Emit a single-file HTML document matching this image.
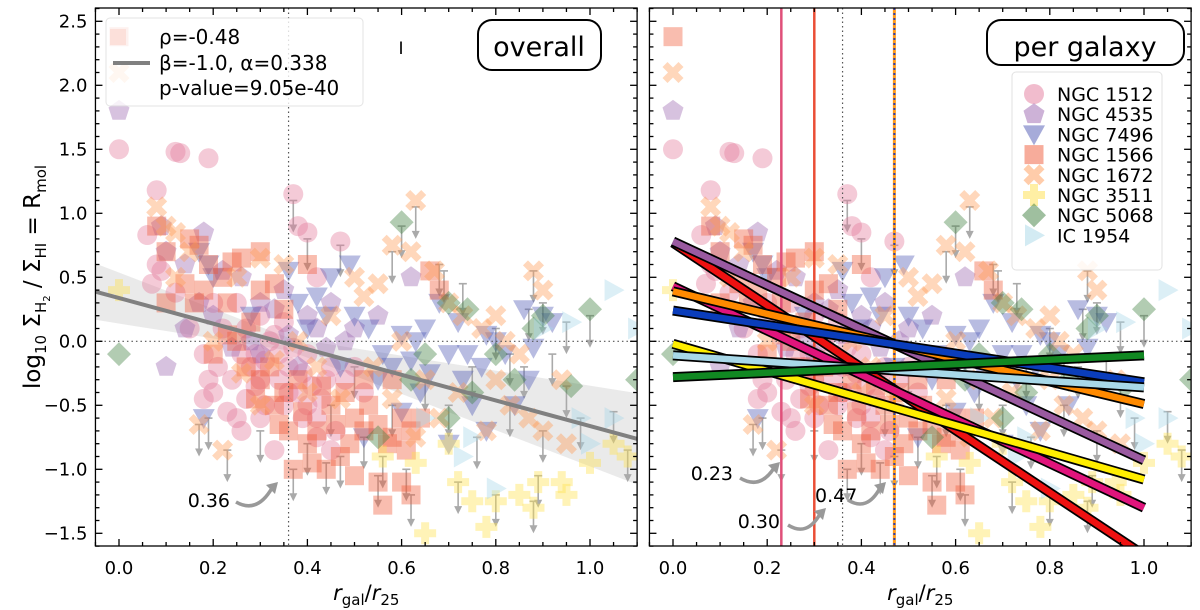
<!DOCTYPE html>
<html><head><meta charset="utf-8"><style>
body{margin:0;background:#fff}
svg{display:block;font-family:"DejaVu Sans","Liberation Sans",sans-serif}
</style></head><body>
<svg id="chart" width="1200" height="610" viewBox="0 0 1200 610" xmlns="http://www.w3.org/2000/svg">
<g id="left"></g>
<g id="right"></g>
<text transform="translate(40,277) rotate(-90)" text-anchor="middle" font-size="23">log<tspan font-size="15" dy="6">10</tspan><tspan dy="-6"> Σ</tspan><tspan font-size="15" dy="6">H</tspan><tspan font-size="10" dy="4">2</tspan><tspan dy="-10"> / Σ</tspan><tspan font-size="15" dy="6">HI</tspan><tspan dy="-6"> = R</tspan><tspan font-size="15" dy="6">mol</tspan></text>
</svg>
<script>
const xTicks=[0,0.2,0.4,0.6,0.8,1.0];
const yTicks=[-1.5,-1.0,-0.5,0,0.5,1.0,1.5,2.0,2.5];
const galaxies=["NGC 1512","NGC 4535","NGC 7496","NGC 1566","NGC 1672","NGC 3511","NGC 5068","IC 1954"];
const g1512=[[0,1.5],[0.12,1.48],[0.13,1.47],[0.19,1.43],[0.08,1.18],[0.06,0.83],[0.08,0.6],[0.07,0.45],[0.09,0.55],[0.12,0.38],[0.2,0.3],[0.15,0.1],[0.18,-0.1],[0.2,-0.4],[0.18,-0.45],[0.23,-0.55],[0.25,-0.6],[0.26,-0.7],[0.28,-0.2],[0.3,-0.3],[0.32,0],[0.34,-0.1],[0.36,-0.2],[0.38,-0.4],[0.4,-0.5],[0.42,-0.6],[0.45,-0.85],[0.46,-0.7],[0.48,-0.3],[0.37,1.15],[0.38,0.9],[0.4,0.85],[0.47,0.78],[0.42,0.5],[0.33,-0.85],[0.35,-0.5],[0.3,0.2],[0.27,0.1],[0.5,-0.2],[0.52,-0.4],[0.44,-0.3],[0.4,-0.1],[0.22,0.1],[0.25,0.3],[0.29,-0.1],[0.31,-0.5],[0.34,-0.3],[0.39,-0.6],[0.21,-0.2],[0.24,-0.3],[0.27,-0.45],[0.29,-0.35],[0.31,-0.15],[0.33,0.05],[0.35,0.15],[0.37,-0.05],[0.39,-0.25],[0.41,-0.35],[0.43,-0.45],[0.45,-0.2],[0.3,-0.6],[0.26,-0.1],[0.36,-0.4],[0.42,-0.75],[0.19,-0.3]];
const g4535=[[0,1.8],[0.09,0.9],[0.1,0.7],[0.18,0.85],[0.14,0.6],[0.22,0.55],[0.26,0.5],[0.3,0.3],[0.17,0.3],[0.14,0.1],[0.35,0.4],[0.4,0.2],[0.45,0.3],[0.5,0.1],[0.55,0.2],[0.62,0.5],[0.48,0],[0.38,-0.2],[0.3,-0.1],[0.42,0.1],[0.24,-0.05],[0.2,0.2],[0.1,-0.2],[0.33,0.25],[0.28,0.0],[0.36,0.05],[0.44,-0.05]];
const g7496=[[0.17,0.7],[0.19,0.6],[0.2,0.5],[0.28,0.2],[0.36,0.55],[0.42,0.35],[0.45,0.5],[0.5,0.2],[0.53,0.1],[0.56,-0.1],[0.6,0.05],[0.63,0],[0.65,0.1],[0.68,0.3],[0.7,-0.1],[0.72,0.15],[0.73,-0.3],[0.75,-0.5],[0.77,-0.2],[0.8,0],[0.82,-0.1],[0.86,0.25],[0.88,-0.05],[0.9,0.2],[0.92,0.15],[0.87,-0.3],[0.6,-0.55],[0.7,-0.8],[0.47,-0.2],[0.52,-0.75],[0.18,-0.6],[0.38,0.3],[0.49,0.6],[0.55,-0.3],[0.64,-0.4],[0.84,-0.5],[0.78,-0.7],[0.4,0.1],[0.44,0.2],[0.58,-0.2],[0.62,-0.15],[0.66,-0.25],[0.74,-0.1],[0.78,0.05]];
const g1566=[[0,2.38],[0.08,0.9],[0.1,0.7],[0.15,0.8],[0.17,0.75],[0.14,0.45],[0.16,0.3],[0.19,0.6],[0.22,0.5],[0.24,0.62],[0.26,0.65],[0.3,0.7],[0.33,0.45],[0.4,0.6],[0.35,0.25],[0.28,0.15],[0.23,0.05],[0.2,-0.1],[0.3,-0.3],[0.33,-0.5],[0.36,-0.7],[0.37,-1.0],[0.4,-0.8],[0.42,-0.7],[0.44,-1.0],[0.47,-0.9],[0.5,-0.6],[0.52,-0.7],[0.55,-1.1],[0.57,-0.8],[0.6,-1.1],[0.62,-1.2],[0.56,-1.28],[0.5,-1.05],[0.48,-0.4],[0.45,-0.5],[0.6,-0.6],[0.62,-0.7],[0.66,0.55],[0.68,0.4],[0.58,-0.3],[0.52,-0.3],[0.27,-0.2],[0.38,-0.3],[0.3,0.4],[0.1,0.3],[0.25,0.0],[0.29,-0.45],[0.32,-0.2],[0.35,-0.4],[0.39,-0.55],[0.43,-0.35],[0.46,-0.65],[0.49,-0.8],[0.53,-0.5],[0.55,-0.65],[0.58,-0.75],[0.61,-0.85],[0.64,-0.6],[0.41,-0.95],[0.34,-0.65],[0.23,0.3],[0.18,0.4]];
const g1672=[[0,2.1],[0.08,1.05],[0.1,0.9],[0.12,0.85],[0.15,0.7],[0.12,0.5],[0.25,0.5],[0.3,0.65],[0.35,0.6],[0.5,0.5],[0.52,0.35],[0.55,0.45],[0.63,1.1],[0.58,0.75],[0.62,0.7],[0.67,0.55],[0.7,0.3],[0.73,0.2],[0.77,0.1],[0.8,0.2],[0.82,0],[0.85,-0.1],[0.88,0.55],[0.9,0.4],[0.83,-0.5],[0.87,-0.6],[0.9,-0.7],[0.17,-0.65],[0.22,-0.85],[0.3,-0.5],[0.45,0.2],[0.4,-0.4],[0.6,0],[0.65,-0.3],[0.72,-0.4],[0.68,-0.6],[0.78,-0.7],[0.94,-0.3],[0.8,-0.3],[0.95,-0.8],[0.26,-0.25],[0.33,-0.15],[0.38,0.0],[0.42,-0.2],[0.47,-0.45],[0.54,-0.2],[0.58,-0.45],[0.63,-0.75],[0.2,0.0]];
const g3511=[[0,0.4],[0.63,-0.95],[0.65,-1.5],[0.72,-1.1],[0.75,-1.25],[0.8,-1.25],[0.85,-1.2],[0.88,-1.3],[0.89,-1.1],[0.94,-1.1],[0.95,-1.2],[1.0,-0.95],[1.05,-0.8],[1.08,-0.9],[0.7,-0.8],[0.56,-0.9],[0.78,-1.45]];
const g5068=[[0,-0.1],[0.6,0.93],[0.7,0.3],[0.74,0.25],[0.8,-0.1],[0.84,-0.3],[0.88,0.1],[0.96,-0.35],[1.0,0.25],[1.1,-0.3],[0.62,-0.3],[0.65,-0.1],[0.7,-0.6],[0.75,-0.4],[0.55,-0.75],[0.9,0.2]];
const gIC1954=[[1.05,0.4],[1.1,0.1],[0.98,-0.6],[1.05,-0.6],[1.0,-0.8],[0.9,0.1],[0.75,-0.75],[0.8,-1.15],[0.96,0.15],[0.73,-0.9],[0.65,-0.6]];
const upperLimits=[[0.37,1.1],[0.4,0.8],[0.47,0.75],[0.63,1.05],[0.6,0.9],[0.58,0.7],[0.69,0.55],[0.73,0.45],[0.68,0.6],[0.88,0.55],[0.9,0.3],[0.8,0.1],[0.83,-0.1],[0.86,-0.2],[0.92,-0.1],[0.95,-0.35],[1.0,0.2],[1.05,-0.55],[0.98,-0.6],[0.9,-0.7],[0.83,-0.5],[0.76,-0.75],[0.72,-1.1],[0.8,-1.2],[0.88,-1.25],[0.89,-1.05],[0.61,-1.0],[0.56,-0.9],[0.52,-0.75],[0.47,-0.9],[0.44,-0.95],[0.4,-0.8],[0.37,-1.0],[0.3,-0.7],[0.23,-0.85],[0.19,-0.6],[0.17,-0.65],[0.58,-0.5],[0.65,-0.3],[0.7,-0.5],[0.75,-0.2],[0.62,-1.2],[0.55,-1.05],[0.5,-0.2],[0.45,-0.5],[1.08,-0.85],[0.95,0.15],[0.87,0.25]];
const fitNames=["NGC 1566","NGC 4535","NGC 1512","NGC 1672","NGC 7496","NGC 3511","IC 1954","NGC 5068"];
const fitStart=[0.77,0.78,0.43,0.39,0.24,-0.02,-0.11,-0.28];
const fitEnd=[-1.67,-0.93,-1.30,-0.49,-0.32,-1.08,-0.36,-0.11];
const fitColors=["#ee1111","#9a5aa0","#e0147c","#ff8a00","#0a3dbb","#ffee00","#a8d8e8","#118822"];
const overallAlpha=0.338, overallBeta=-1.0;
const critRight=[0.23,0.30,0.47];

const NS="http://www.w3.org/2000/svg";
const yTop=8,yBot=546;
function sy(v){return 341.3-v*128;}
function mk(tag,attrs,parent){const e=document.createElementNS(NS,tag);for(const k in attrs)e.setAttribute(k,attrs[k]);parent.appendChild(e);return e;}
const styles=[
 {shape:"circle",fill:"#e47a9c"},{shape:"pent",fill:"#9c66b0"},{shape:"tri",fill:"#4d58b4"},{shape:"square",fill:"#f05a38"},
 {shape:"x",fill:"#ff9a55"},{shape:"plus",fill:"#ffe04a"},{shape:"diamond",fill:"#3f7f3f"},{shape:"rtri",fill:"#a8d8e8"}];
const series=[g1512,g4535,g7496,g1566,g1672,g3511,g5068,gIC1954];
function marker(p,shape,cx,cy,fill,op){
 let e;const r=10;
 if(shape==="circle")e=mk("circle",{cx,cy,r,fill},p);
 else if(shape==="square")e=mk("rect",{x:cx-9.5,y:cy-9.5,width:19,height:19,fill},p);
 else if(shape==="diamond")e=mk("polygon",{points:`${cx},${cy-12} ${cx+12},${cy} ${cx},${cy+12} ${cx-12},${cy}`,fill},p);
 else if(shape==="tri")e=mk("polygon",{points:`${cx-11},${cy-9} ${cx+11},${cy-9} ${cx},${cy+11}`,fill},p);
 else if(shape==="rtri")e=mk("polygon",{points:`${cx-9},${cy-11} ${cx+11},${cy} ${cx-9},${cy+11}`,fill},p);
 else if(shape==="pent"){let pts=[];for(let i=0;i<5;i++){const a=-Math.PI/2+i*2*Math.PI/5;pts.push((cx+11*Math.cos(a)).toFixed(1)+","+(cy+11*Math.sin(a)).toFixed(1));}e=mk("polygon",{points:pts.join(" "),fill},p);}
 else if(shape==="plus")e=mk("path",{d:`M${cx-4},${cy-11}h8v7h7v8h-7v7h-8v-7h-7v-8h7z`,fill},p);
 else if(shape==="x")e=mk("path",{d:`M${cx},${cy-5}l5.5-5.5 5,5-5.5,5.5 5.5,5.5-5,5-5.5-5.5-5.5,5.5-5-5 5.5-5.5-5.5-5.5 5-5z`,fill},p);
 e.setAttribute("opacity",op);return e;
}
function panel(gid,x0px,isRight){
 const g=document.getElementById(gid);
 const sx=v=>x0px+v*471;
 const L=sx(-0.05),R=sx(1.1);
 const clipId="clip"+gid;
 const cp=mk("clipPath",{id:clipId},g);mk("rect",{x:L,y:yTop,width:R-L,height:yBot-yTop},cp);
 const plot=mk("g",{"clip-path":`url(#${clipId})`},g);
 
 
 if(!isRight){
  const band=[];const xs=[-0.05,0.1,0.25,0.36,0.5,0.7,0.9,1.1];
  const hw=v=>0.05+0.17*Math.abs(v-0.36)/0.41;
  xs.forEach(v=>band.push(sx(v)+","+sy(overallAlpha+overallBeta*v+hw(v))));
  xs.slice().reverse().forEach(v=>band.push(sx(v)+","+sy(overallAlpha+overallBeta*v-hw(v))));
  const b=mk("polygon",{points:band.join(" "),fill:"#d8d8d8",opacity:0.55},plot);
  
  
 }
 upperLimits.forEach(([x,y])=>{
  const a=mk("g",{stroke:"#aaa","stroke-width":1.6,fill:"none"},plot);
  
  
  const X=sx(x),Y=sy(y);
  mk("line",{x1:X-4,y1:Y,x2:X+4,y2:Y},a);mk("line",{x1:X,y1:Y,x2:X,y2:Y+28},a);
  mk("polygon",{points:`${X-4},${Y+24} ${X+4},${Y+24} ${X},${Y+32}`,fill:"#aaa",stroke:"none"},a);
 });
 series.forEach((s,i)=>{s.forEach(([x,y])=>{
  const m=marker(plot,styles[i].shape,sx(x),sy(y),styles[i].fill,0.4);
  
  
 });});
 const z=mk("line",{x1:L,y1:sy(0),x2:R,y2:sy(0),stroke:"#555","stroke-width":1.2,"stroke-dasharray":"1.5,3"},plot);
 
 
 const c=mk("line",{x1:sx(0.36),y1:yTop,x2:sx(0.36),y2:yBot,stroke:"#555","stroke-width":1.2,"stroke-dasharray":"1.5,3"},plot);
 
 
 if(!isRight){
  const f=mk("line",{x1:sx(-0.05),y1:sy(overallAlpha+overallBeta*-0.05),x2:sx(1.1),y2:sy(overallAlpha+overallBeta*1.1),stroke:"#808080","stroke-width":4},plot);
  
  
 } else {
  const cc=["#e0507a","#ea4e36"];
  [0,1].forEach(i=>{const l=mk("line",{x1:sx(critRight[i]),y1:yTop,x2:sx(critRight[i]),y2:yBot,stroke:cc[i],"stroke-width":2.5},plot);
   
   });
  mk("line",{x1:sx(critRight[2]),y1:yTop,x2:sx(critRight[2]),y2:yBot,stroke:"#ff9a1a","stroke-width":3},plot);
  const l3=mk("line",{x1:sx(critRight[2]),y1:yTop,x2:sx(critRight[2]),y2:yBot,stroke:"#2a3fb0","stroke-width":2,"stroke-dasharray":"2,3"},plot);
  
  
  fitStart.forEach((s,i)=>{
   const gl=mk("g",{},plot);
   
   
   mk("line",{x1:sx(0),y1:sy(s),x2:sx(1),y2:sy(fitEnd[i]),stroke:"#000","stroke-width":10},gl);
   mk("line",{x1:sx(0),y1:sy(s),x2:sx(1),y2:sy(fitEnd[i]),stroke:fitColors[i],"stroke-width":6.5},gl);
  });
 }
 const ax=mk("g",{stroke:"#000","stroke-width":1.3},g);
 
 
 mk("rect",{x:L,y:yTop,width:R-L,height:yBot-yTop,fill:"none"},ax);
 for(let v=-0.05;v<=1.1001;v+=0.05){const X=sx(v);const maj=Math.abs(Math.round(v*5)-v*5)<1e-6;const t=maj?7:4;
  mk("line",{x1:X,y1:yBot,x2:X,y2:yBot-t},ax);mk("line",{x1:X,y1:yTop,x2:X,y2:yTop+t},ax);}
 for(let v=-1.6;v<=2.6001;v+=0.1){const Y=sy(v);const maj=Math.abs(Math.round(v*2)-v*2)<1e-6;const t=maj?7:4;
  mk("line",{x1:L,y1:Y,x2:L+t,y2:Y},ax);mk("line",{x1:R,y1:Y,x2:R-t,y2:Y},ax);}
 xTicks.forEach(v=>{const t=mk("text",{x:sx(v),y:574,"text-anchor":"middle","font-size":18},g);t.textContent=v.toFixed(1);
  
  });
 if(!isRight)yTicks.forEach(v=>{const t=mk("text",{x:L-8,y:sy(v)+6,"text-anchor":"end","font-size":18},g);t.textContent=(v<0?"−":"")+Math.abs(v).toFixed(1);
  
  });
 const xl=mk("text",{x:(L+R)/2,y:600,"text-anchor":"middle","font-size":21},g);
 
 
 xl.innerHTML='<tspan font-style="italic">r</tspan><tspan font-size="15" dy="5">gal</tspan><tspan dy="-5">/</tspan><tspan font-style="italic">r</tspan><tspan font-size="15" dy="5">25</tspan>';
 return sx;
}
const sxL=panel("left",119,false);
const sxR=panel("right",673,true);
function txt(p,x,y,s,fs,name,anchor){const t=mk("text",{x,y,"font-size":fs,"text-anchor":anchor||"start"},p);t.textContent=s;return t;}
function arrow(p,x1,y1,x2,y2){const a=mk("g",{},p);
 mk("path",{d:`M${x1},${y1} Q${(x1+x2)/2},${y1+12} ${x2-6},${y2+6}`,stroke:"#999","stroke-width":3.5,fill:"none"},a);
 mk("polygon",{points:`${x2},${y2} ${x2-12},${y2+3} ${x2-3},${y2+12}`,fill:"#999"},a);}
const L=document.getElementById("left"),Rg=document.getElementById("right");
const lg=mk("g",{},L);
mk("rect",{x:106,y:18,width:257,height:88,rx:4,fill:"#fff",opacity:0.8,stroke:"#ddd"},lg);
mk("rect",{x:110,y:29,width:16,height:16,fill:"#f8a088",opacity:0.2},lg);
mk("line",{x1:113,y1:63,x2:150,y2:63,stroke:"#808080","stroke-width":4},lg);
txt(lg,159,44,"ρ=-0.48",20,"legend-rho");
txt(lg,159,70,"β=-1.0, α=0.338",20,"legend-fit");
txt(lg,159,95,"p-value=9.05e-40",20,"legend-pvalue");
txt(L,401,54,"I",17,"error-bar-symbol","middle");
mk("rect",{x:478,y:20,width:123,height:50,rx:14,fill:"#fff",stroke:"#000","stroke-width":2},L);
txt(L,539,56,"overall",27,"panel-title-overall","middle");
txt(L,230,507,"0.36",19,"critical-value-label","end");arrow(L,236,502,278,482);
mk("rect",{x:987,y:20,width:197,height:45,rx:14,fill:"#fff",stroke:"#000","stroke-width":2},Rg);
txt(Rg,1085,56,"per galaxy",27,"panel-title-per-galaxy","middle");
const rl=mk("g",{},Rg);
mk("rect",{x:1012,y:72,width:150,height:198,rx:4,fill:"#fff",opacity:0.85,stroke:"#ddd"},rl);
galaxies.forEach((n,i)=>{const y=94+i*20.2;const m=marker(rl,styles[i].shape,1034,y,styles[i].fill,0.5);
 
 txt(rl,1057,y+7,n,19,"legend-entry");});
txt(Rg,733,480,"0.23",19,"critical-label-023","end");arrow(Rg,740,478,780,462);
txt(Rg,780,528,"0.30",19,"critical-label-030","end");arrow(Rg,788,525,826,508);
txt(Rg,815,502,"0.47",19,"critical-label-047","start");arrow(Rg,848,500,886,482);
</script>
</body></html>
